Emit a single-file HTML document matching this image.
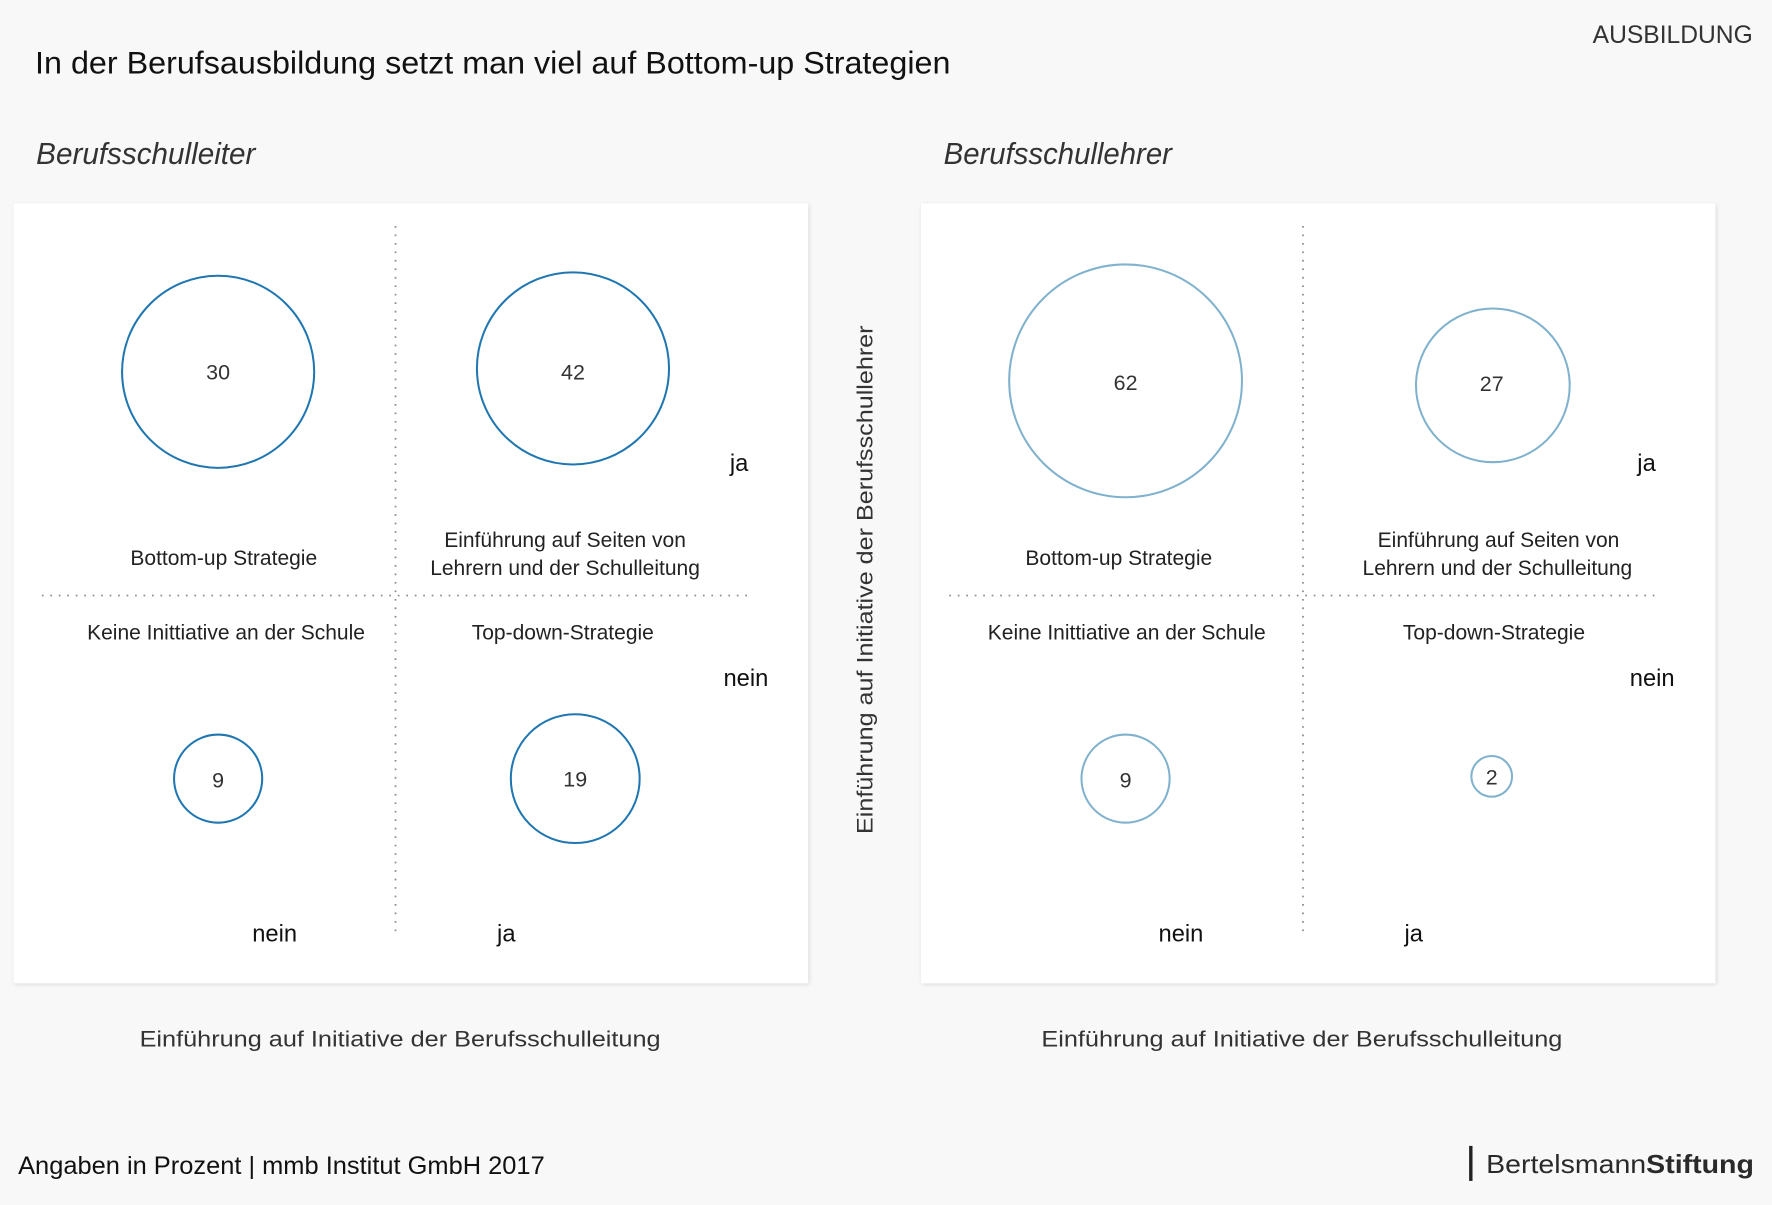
<!DOCTYPE html>
<html><head><meta charset="utf-8"><style>
html,body{margin:0;padding:0;background:#f8f8f8;}
svg{display:block;font-family:"Liberation Sans",sans-serif;}
</style></head><body>
<svg width="1772" height="1205" viewBox="0 0 1568 1066.3" xmlns="http://www.w3.org/2000/svg">
<defs><filter id="sh" x="-5%" y="-5%" width="110%" height="110%"><feDropShadow dx="1" dy="1" stdDeviation="2" flood-color="#000" flood-opacity="0.12"/></filter></defs>
<rect width="1568" height="1067" fill="#f8f8f8"/>
<text x="31" y="65" font-size="28" fill="#111" textLength="810" lengthAdjust="spacingAndGlyphs">In der Berufsausbildung setzt man viel auf Bottom-up Strategien</text>
<text x="1551" y="38" font-size="21.8" fill="#333" text-anchor="end">AUSBILDUNG</text>
<text x="32" y="145" font-size="27" font-style="italic" fill="#333" textLength="194" lengthAdjust="spacingAndGlyphs">Berufsschulleiter</text>
<text x="835" y="145" font-size="27" font-style="italic" fill="#333" textLength="202" lengthAdjust="spacingAndGlyphs">Berufsschullehrer</text>

<g>
<rect x="12" y="180" width="703" height="690" fill="#fff" filter="url(#sh)"/>
<line x1="350" y1="200" x2="350" y2="828" stroke="#888" stroke-width="1.5" stroke-dasharray="1.5 6"/>
<line x1="37" y1="527" x2="665" y2="527" stroke="#888" stroke-width="1.5" stroke-dasharray="1.5 6"/>
<g font-size="18.6" fill="#222" text-anchor="middle">
<text x="198" y="500">Bottom-up Strategie</text>
<text x="500" y="484">Einführung auf Seiten von</text>
<text x="500" y="509">Lehrern und der Schulleitung</text>
<text x="200" y="566">Keine Inittiative an der Schule</text>
<text x="498" y="566">Top-down-Strategie</text>
</g>
<g font-size="21" fill="#111" text-anchor="middle">
<text x="654" y="417">ja</text>
<text x="660" y="607">nein</text>
<text x="243" y="833">nein</text>
<text x="448" y="833">ja</text>
</g>
</g>
<g transform="translate(803,0)">
<rect x="12" y="180" width="703" height="690" fill="#fff" filter="url(#sh)"/>
<line x1="350" y1="200" x2="350" y2="828" stroke="#888" stroke-width="1.5" stroke-dasharray="1.5 6"/>
<line x1="37" y1="527" x2="665" y2="527" stroke="#888" stroke-width="1.5" stroke-dasharray="1.5 6"/>
<g font-size="18.6" fill="#222" text-anchor="middle">
<text x="187" y="500">Bottom-up Strategie</text>
<text x="523" y="484">Einführung auf Seiten von</text>
<text x="522" y="509">Lehrern und der Schulleitung</text>
<text x="194" y="566">Keine Inittiative an der Schule</text>
<text x="519" y="566">Top-down-Strategie</text>
</g>
<g font-size="21" fill="#111" text-anchor="middle">
<text x="654" y="417">ja</text>
<text x="659" y="607">nein</text>
<text x="242" y="833">nein</text>
<text x="448" y="833">ja</text>
</g>
</g>

<g fill="none" stroke="#1f76b0" stroke-width="1.8">
<circle cx="193" cy="329" r="85"/><circle cx="507" cy="326" r="85"/>
<circle cx="193" cy="689" r="39"/><circle cx="509" cy="689" r="57"/>
</g>
<g fill="none" stroke="#80b2cd" stroke-width="1.8">
<circle cx="996" cy="337" r="103"/><circle cx="1321" cy="341" r="68"/>
<circle cx="996" cy="689" r="39"/><circle cx="1320" cy="687" r="18"/>
</g>
<g font-size="19" fill="#333" text-anchor="middle">
<text x="193" y="336">30</text><text x="507" y="336">42</text>
<text x="193" y="697">9</text><text x="509" y="696">19</text>
<text x="996" y="345">62</text><text x="1320" y="346">27</text>
<text x="996" y="697">9</text><text x="1320" y="694">2</text>
</g>
<text transform="translate(772,513) rotate(-90)" font-size="20" fill="#333" text-anchor="middle" textLength="450" lengthAdjust="spacingAndGlyphs">Einführung auf Initiative der Berufsschullehrer</text>
<text x="354" y="926" font-size="20" fill="#333" text-anchor="middle" textLength="461" lengthAdjust="spacingAndGlyphs">Einführung auf Initiative der Berufsschulleitung</text>
<text x="1152" y="926" font-size="20" fill="#333" text-anchor="middle" textLength="461" lengthAdjust="spacingAndGlyphs">Einführung auf Initiative der Berufsschulleitung</text>
<text x="16" y="1039" font-size="22" fill="#111" textLength="466" lengthAdjust="spacingAndGlyphs">Angaben in Prozent  | mmb Institut GmbH 2017</text>
<rect x="1300" y="1014" width="3" height="31" fill="#222"/>
<text x="1552" y="1038" font-size="23" fill="#2a2a2a" text-anchor="end" textLength="237" lengthAdjust="spacingAndGlyphs">Bertelsmann<tspan font-weight="bold">Stiftung</tspan></text>
</svg>
</body></html>
